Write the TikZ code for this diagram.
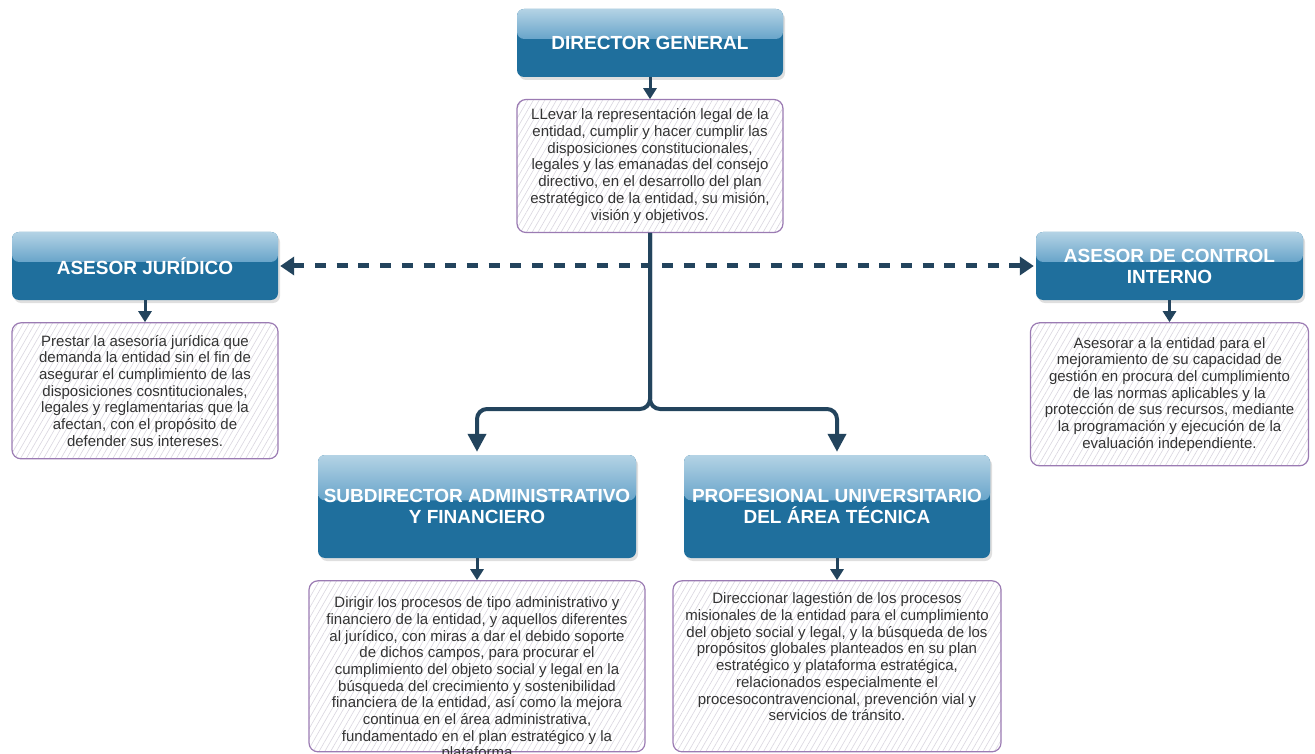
\documentclass[tikz,border=0pt]{standalone}
\usepackage{fontspec}
\setmainfont{Liberation Sans}
\usetikzlibrary{shapes.misc, arrows.meta, calc, positioning, shadows, patterns.meta}
\definecolor{roleblue}{HTML}{1F6F9D}
\definecolor{roletop}{HTML}{B4D3E5}
\definecolor{rolehalf}{HTML}{5E9EC6}
\definecolor{rolemid}{HTML}{2C79AB}
\definecolor{linknavy}{HTML}{23445D}
\definecolor{dutypurple}{HTML}{9B7BB3}
\definecolor{hatchgray}{HTML}{DAD6E0}
\definecolor{dutytext}{HTML}{333333}
\newcommand{\rolefont}{\fontsize{19}{21}\selectfont\bfseries}
\newcommand{\dutyfont}{\fontsize{15}{16.7}\selectfont}
\tikzstyle{rolebox} = [rectangle, rounded corners=7pt, fill=roleblue, text=white, font=\rolefont, align=center, drop shadow={shadow xshift=2pt, shadow yshift=-3pt, opacity=0.25}, path picture={\shade[top color=roletop, bottom color=rolemid, middle color=rolehalf] (path picture bounding box.north west) rectangle ($(path picture bounding box.north east)!0.44!(path picture bounding box.south east)$);}]
\tikzstyle{dutybox} = [rectangle, rounded corners=9pt, draw=dutypurple, line width=1.2pt, preaction={fill=white}, pattern={Lines[angle=60, distance=5pt, line width=0.6pt]}, pattern color=hatchgray, text=dutytext, font=\dutyfont, align=center, inner sep=0pt]
\tikzstyle{dutyarrow} = [-{Triangle[length=11pt, width=13pt]}, line width=3pt, draw=linknavy]
\tikzstyle{trunkline} = [-{Triangle[length=18pt, width=18pt]}, line width=4pt, draw=linknavy, rounded corners=10pt]
\tikzstyle{advisorlink} = [{Triangle[length=14pt, width=18pt]}-{Triangle[length=14pt, width=18pt]}, line width=5pt, draw=linknavy, dash pattern=on 11pt off 10.7pt]

\begin{document}
\begin{tikzpicture}[x=1pt, y=-1pt]
	\useasboundingbox (0,0) rectangle (1315,754);
	\clip (0,0) rectangle (1315,754);
	\node (director) [rolebox, minimum width=266pt, minimum height=68pt] at (650,43) {DIRECTOR GENERAL};
	\node (director_duty) [dutybox, minimum width=266pt, minimum height=133pt, below=22pt of director] {LLevar la representación legal de la\\entidad, cumplir y hacer cumplir las\\disposiciones constitucionales,\\legales y las emanadas del consejo\\directivo, en el desarrollo del plan\\estratégico de la entidad, su misión,\\visión y objetivos.};
	\node (legal) [rolebox, minimum width=266pt, minimum height=68pt] at (145,266) {ASESOR JURÍDICO};
	\node (legal_duty) [dutybox, minimum width=266pt, minimum height=136pt, below=22pt of legal] {Prestar la asesoría jurídica que\\demanda la entidad sin el fin de\\asegurar el cumplimiento de las\\disposiciones cosntitucionales,\\legales y reglamentarias que la\\afectan, con el propósito de\\defender sus intereses.};
	\node (control) [rolebox, minimum width=267pt, minimum height=68pt] at (1169.5,266) {ASESOR DE CONTROL\\INTERNO};
	\node (control_duty) [dutybox, minimum width=278pt, minimum height=143pt, below=22pt of control] {Asesorar a la entidad para el\\mejoramiento de su capacidad de\\gestión en procura del cumplimiento\\de las normas aplicables y la\\protección de sus recursos, mediante\\la programación y ejecución de la\\evaluación independiente.};
	\node (admin) [rolebox, minimum width=318pt, minimum height=103pt] at (477,506.5) {SUBDIRECTOR ADMINISTRATIVO\\Y FINANCIERO};
	\node (admin_duty) [dutybox, below=22pt of admin] {\parbox[c][171pt][t]{336pt}{\centering\vspace*{16pt}Dirigir los procesos de tipo administrativo y\\financiero de la entidad, y aquellos diferentes\\al jurídico, con miras a dar el debido soporte\\de dichos campos, para procurar el\\cumplimiento del objeto social y legal en la\\búsqueda del crecimiento y sostenibilidad\\financiera de la entidad, así como la mejora\\continua en el área administrativa,\\fundamentado en el plan estratégico y la\\plataforma}};
	\node (technical) [rolebox, minimum width=306pt, minimum height=103pt] at (837,506.5) {PROFESIONAL UNIVERSITARIO\\DEL ÁREA TÉCNICA};
	\node (technical_duty) [dutybox, below=22pt of technical] {\parbox[c][171pt][t]{328pt}{\centering\vspace*{12pt}Direccionar lagestión de los procesos\\misionales de la entidad para el cumplimiento\\del objeto social y legal, y la búsqueda de los\\propósitos globales planteados en su plan\\estratégico y plataforma estratégica,\\relacionados especialmente el\\procesocontravencional, prevención vial y\\servicios de tránsito.}};
	\foreach \role in {director, legal, control, admin, technical}
		\draw [dutyarrow] (\role) -- (\role_duty);
	\coordinate (split) at (650,409);
	\draw [trunkline, shorten >=3pt] (director_duty.south) -- (split) -| (admin.north);
	\draw [trunkline, shorten >=3pt] (director_duty.south) -- (split) -| (technical.north);
	\draw [advisorlink, shorten <=2pt, shorten >=2pt] (legal.east) -- (control.west);
\end{tikzpicture}
\end{document}
